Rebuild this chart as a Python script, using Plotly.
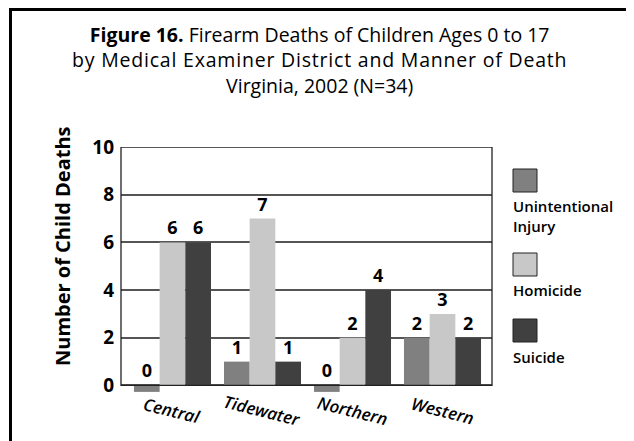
import plotly.graph_objects as go

# ---- data ----
districts = ["Central", "Tidewater", "Northern", "Western"]
manners = ["Unintentional<br>Injury", "Homicide", "Suicide"]
unintentional = [0, 1, 0, 2]
homicide = [6, 7, 2, 3]
suicide = [6, 1, 4, 2]
y_ticks = [0, 2, 4, 6, 8, 10]
title_lines = [
    "<b>Figure 16.</b> Firearm Deaths of Children Ages 0 to 17",
    '<span style="letter-spacing:0.8px">by Medical Examiner District and Manner of Death</span>',
    "Virginia, 2002 (N=34)",
]
y_title = "Number of Child Deaths"

series = [unintentional, homicide, suicide]
colors = ["#808080", "#c8c8c8", "#404040"]

FONT = "Open Sans"
STUB = 0.27  # zero values drawn as a short stub below the axis

# layout geometry (pixels of the 634x441 window); the page body has an 8px margin
OFF = 8
W, H = 634 - OFF, 441 - OFF
PLOT_L, PLOT_R, PLOT_T, PLOT_B = 121, 492, 147, 395
ML, MT = PLOT_L - OFF, PLOT_T - OFF
MR, MB = W - (PLOT_R - OFF), H - (PLOT_B - OFF)
PW, PH = PLOT_R - PLOT_L, PLOT_B - PLOT_T


def px_x(px):
    return (px - PLOT_L) / PW


def px_y(py):
    return (PLOT_B - py) / PH


fig = go.Figure()
for name, vals, col in zip(manners, series, colors):
    fig.add_trace(go.Bar(
        x=districts,
        y=[v if v > 0 else STUB for v in vals],
        base=[0 if v > 0 else -STUB for v in vals],
        text=[str(v) for v in vals],
        textposition="outside",
        textfont=dict(family=FONT, size=18, color="black", weight="bold"),
        cliponaxis=False,
        marker=dict(color=col, line=dict(width=0)),
        name=name,
        showlegend=False,
        hoverinfo="skip",
    ))

shapes = []
annotations = []

# plot box from 0 to 10
shapes.append(dict(type="rect", xref="paper", yref="y", x0=0, x1=1, y0=0, y1=10,
                   line=dict(color="#222", width=1.3), layer="above"))
# outer frame
shapes.append(dict(type="rect", xref="paper", yref="paper",
                   x0=px_x(10.5), x1=px_x(680), y0=px_y(480), y1=px_y(OFF + 1.5),
                   line=dict(color="black", width=3)))

# title
annotations.append(dict(x=px_x(319), y=px_y(60), xref="paper", yref="paper",
                        text="<br>".join(title_lines), showarrow=False,
                        xanchor="center", yanchor="middle", align="center",
                        font=dict(family=FONT, size=19.5, color="black")))

# category labels (rotated, italic)
for d in districts:
    annotations.append(dict(x=d, y=px_y(410), xref="x", yref="paper", text=d,
                            showarrow=False, textangle=14, xanchor="center",
                            yanchor="middle",
                            font=dict(family=FONT, size=17, color="black",
                                      style="italic", weight=600)))

# y-axis title
annotations.append(dict(x=px_x(62), y=px_y(246), xref="paper", yref="paper",
                        text=y_title, textangle=-90, showarrow=False,
                        xanchor="center", yanchor="middle",
                        font=dict(family=FONT, size=20, color="black", weight="bold")))

# custom legend: square above text
sq_tops = [169, 253, 319]
label_centers = [216, 290, 357]
for name, col, st, lc in zip(manners, colors, sq_tops, label_centers):
    shapes.append(dict(type="rect", xref="paper", yref="paper",
                       x0=px_x(513), x1=px_x(537), y0=px_y(st + 23), y1=px_y(st),
                       fillcolor=col, line=dict(color="#222", width=1)))
    annotations.append(dict(x=px_x(511), y=px_y(lc), xref="paper", yref="paper",
                            text=name, showarrow=False, xanchor="left",
                            yanchor="middle", align="left",
                            font=dict(family=FONT, size=15, color="black", weight=600)))

fig.update_layout(
    width=W, height=H,
    margin=dict(l=ML, r=MR, t=MT, b=MB),
    paper_bgcolor="white", plot_bgcolor="white",
    barmode="group", bargap=0.144, bargroupgap=0,
    xaxis=dict(type="category", range=[-0.572, 3.55], showticklabels=False,
               showgrid=False, zeroline=False, showline=False, ticks=""),
    yaxis=dict(range=[-0.4, 10], tickvals=y_ticks, showgrid=True, gridcolor="#555",
               gridwidth=1.5, zeroline=False, showline=False, ticks="",
               ticklabelstandoff=6,
               tickfont=dict(family=FONT, size=19, color="black", weight="bold")),
    annotations=annotations,
    shapes=shapes,
)

fig.write_html("out.html")
